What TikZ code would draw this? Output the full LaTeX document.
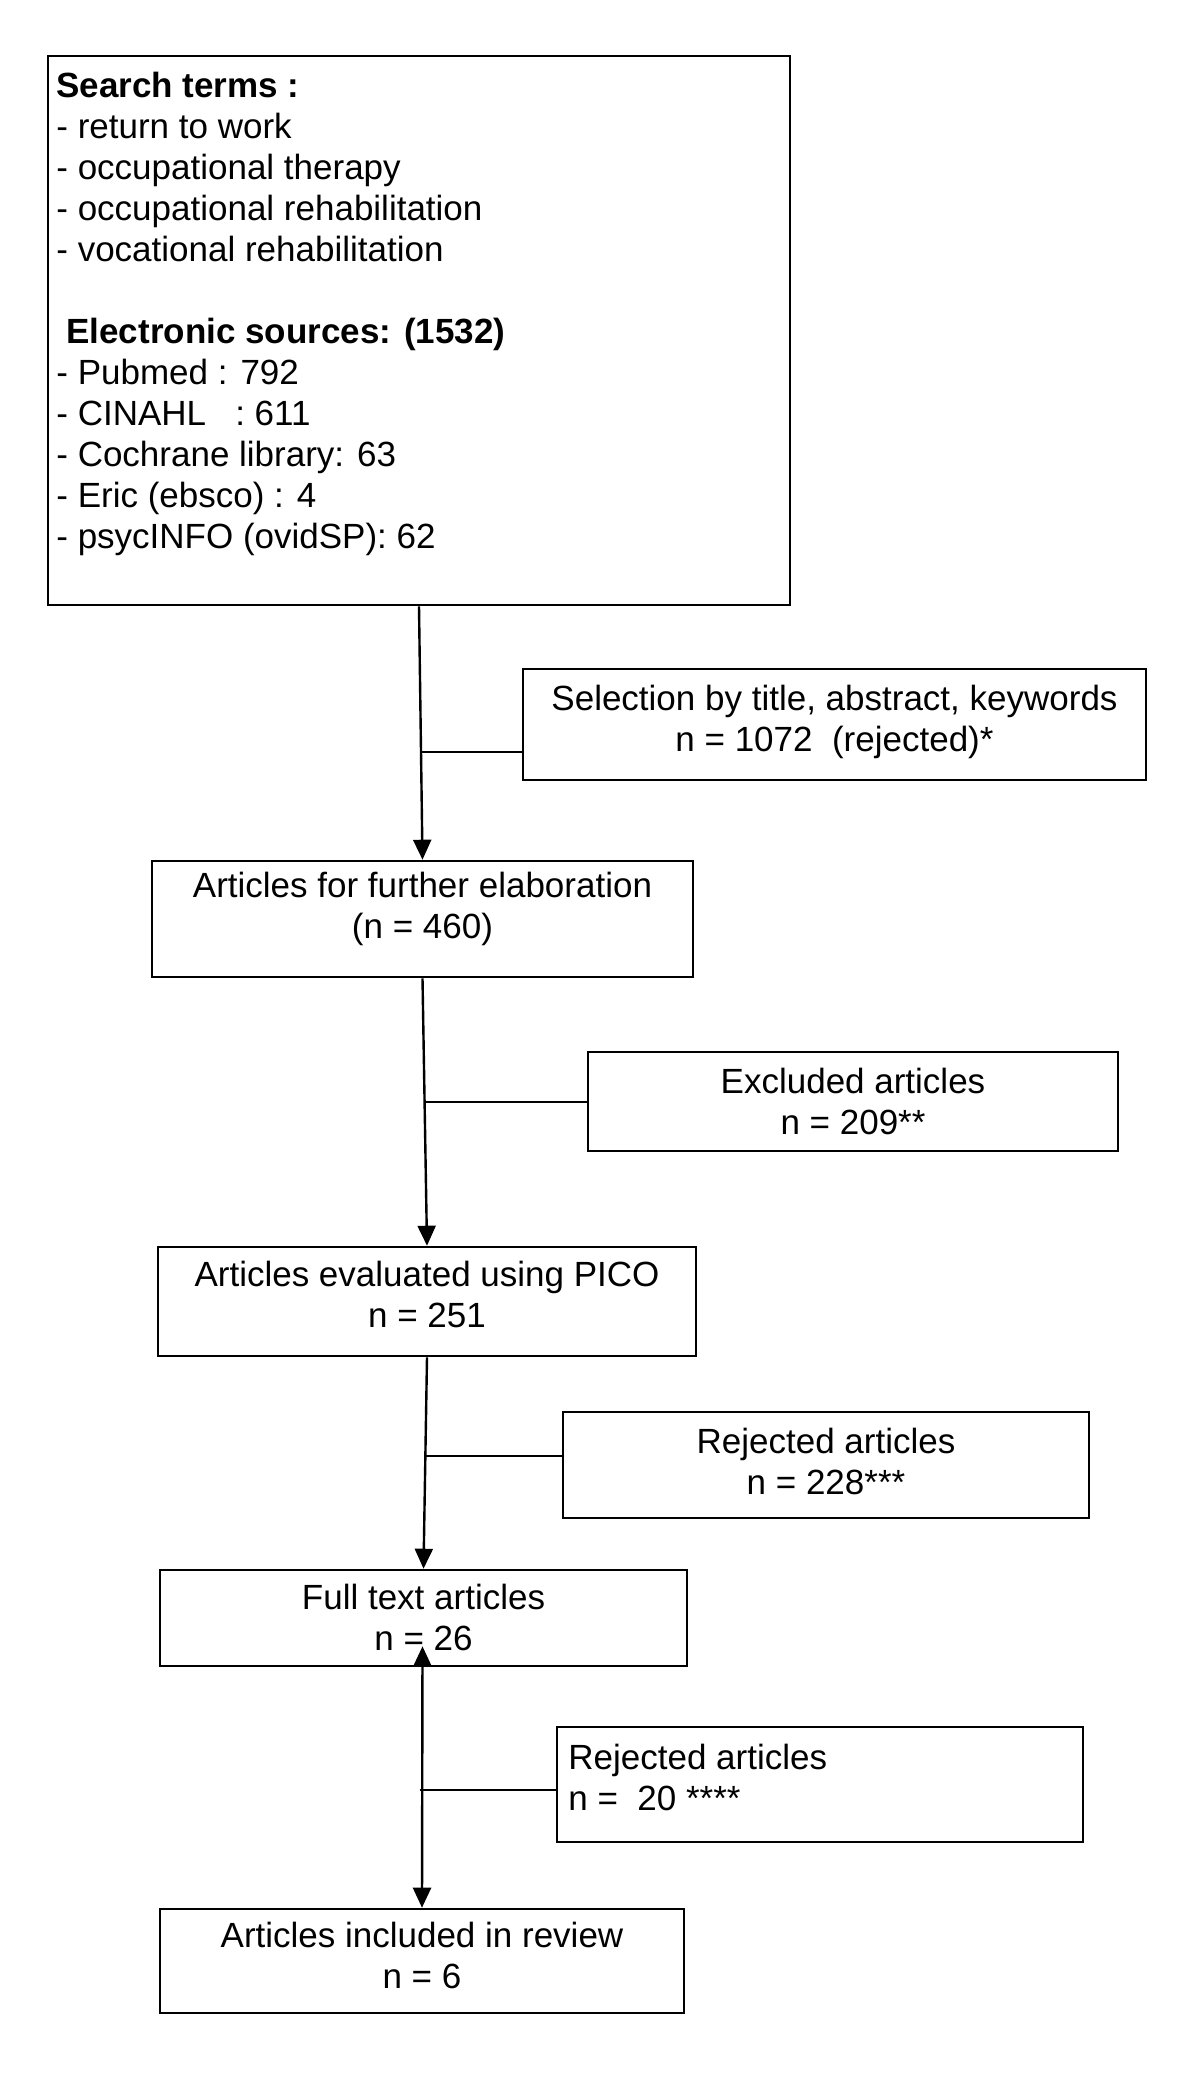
\documentclass[tikz,border=0pt]{standalone}
\usepackage{fontspec}
\setmainfont{Liberation Sans}
\usetikzlibrary{arrows.meta,calc}
\begin{document}
\begin{tikzpicture}[x=0.5pt,y=-0.5pt,
  txt/.style={font=\fontsize{17.5pt}{20.5pt}\selectfont},
  box/.style={draw, line width=1.3pt, rectangle, inner sep=0pt},
  ctext/.style={txt, align=center, inner sep=0pt},
  ltext/.style={txt, align=left, inner sep=0pt, anchor=north west},
  flow/.style={line width=1.2pt, -{Triangle[length=10pt,width=9pt]}},
  branch/.style={line width=1.2pt}]
\useasboundingbox (0,0) rectangle (1200,2089);
\fill[white] (0,0) rectangle (1200,2089);

% boxes
\node[box, minimum width=371pt, minimum height=274.5pt] (src) at (419,330.5) {};
\node[ltext] (srctext) at (56,72) {%
\textbf{Search terms :}\\
- return to work\\
- occupational therapy\\
- occupational rehabilitation\\
- vocational rehabilitation\\[20.5pt]
\hspace*{5pt}\textbf{Electronic sources: (1532)}\\
- Pubmed : 792\\
- CINAHL\ \ \ : 611\\
- Cochrane library: 63\\
- Eric (ebsco) : 4\\
- psycINFO (ovidSP): 62};

\node[box, minimum width=311.5pt, minimum height=55.5pt] (sel) at (834.5,724.5) {};
\node[ctext] (seltext) at (834.5,721.8)
  {Selection by title, abstract, keywords\\ n = 1072\ \ (rejected)*};

\node[box, minimum width=270.5pt, minimum height=58pt] (elab) at (422.5,919) {};
\node[ctext] (elabtext) at (422.5,909)
  {Articles for further elaboration\\ (n = 460)};

\node[box, minimum width=265pt, minimum height=49.5pt] (excl) at (853,1101.5) {};
\node[ctext] (excltext) at (853,1101.5)
  {Excluded articles\\ n = 209**};

\node[box, minimum width=269pt, minimum height=54.5pt] (pico) at (427,1301.5) {};
\node[ctext] (picotext) at (427,1294.8)
  {Articles evaluated using PICO\\ n = 251};

\node[box, minimum width=263pt, minimum height=53pt] (rej1) at (826,1465) {};
\node[ctext] (rej1text) at (826,1461)
  {Rejected articles\\ n = 228***};

\node[box, minimum width=263.5pt, minimum height=48pt] (full) at (423.5,1618) {};
\node[ctext] (fulltext) at (423.5,1617)
  {Full text articles\\ n = 26};

\node[box, minimum width=263pt, minimum height=57.5pt] (rej2) at (820,1784.5) {};
\node[ltext] (rej2text) at (568,1744)
  {Rejected articles\\ n =\ \ 20 ****};

\node[box, minimum width=262pt, minimum height=52pt] (incl) at (422,1961) {};
\node[ctext] (incltext) at (422,1955.7)
  {Articles included in review\\ n = 6};

% main flow
\draw[flow] (src.south) -- (elab.north);
\coordinate (b1) at ($(src.south)!0.574!(elab.north)$);
\draw[branch] (b1) -- (b1 -| sel.west);

\draw[flow] (elab.south) -- (pico.north);
\coordinate (b2) at ($(elab.south)!0.463!(pico.north)$);
\draw[branch] (b2) -- (b2 -| excl.west);

\draw[flow] (pico.south) -- (full.north);
\coordinate (b3) at ($(pico.south)!0.467!(full.north)$);
\draw[branch] (b3) -- (b3 -| rej1.west);

\coordinate (up) at ($(full.south)+(-1,-21)$);
\draw[line width=1.2pt, {Triangle[length=10pt,width=9pt]}-{Triangle[length=10pt,width=9pt]}] (up) -- (incl.north);
\coordinate (b4) at ($(full.south)!0.51!(incl.north)$);
\draw[branch] ($(b4)+(-3,0)$) -- (b4 -| rej2.west);
\end{tikzpicture}
\end{document}
